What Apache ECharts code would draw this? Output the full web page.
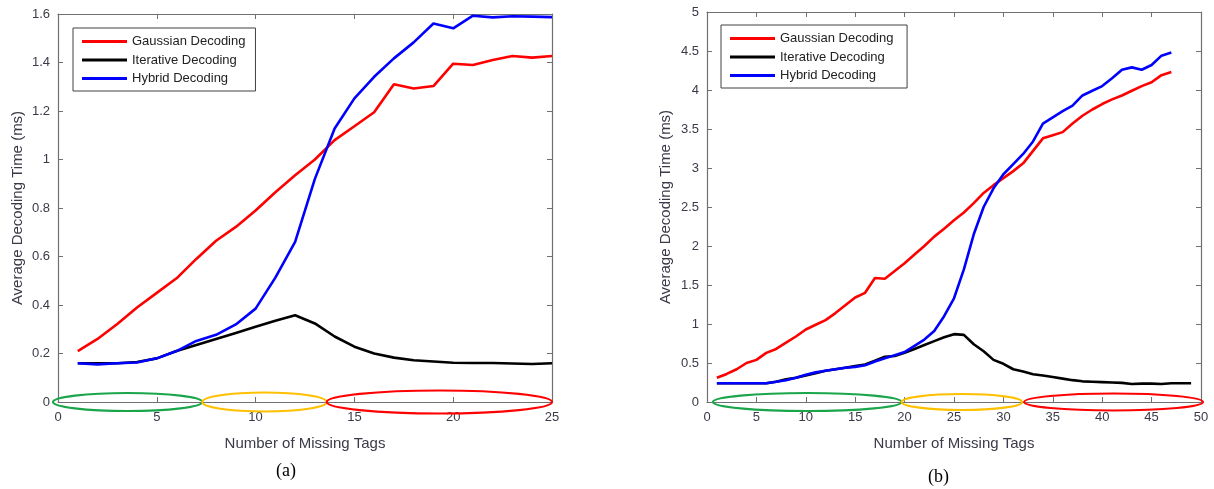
<!DOCTYPE html>
<html>
<head>
<meta charset="utf-8">
<script src="https://cdn.jsdelivr.net/npm/echarts@6/dist/echarts.min.js"></script>
<style>html,body{margin:0;padding:0;background:#fff}#c{width:1214px;height:489px}</style>
</head>
<body>
<div id="c"></div>
<script>
// ---- Data: chart (a) ----
const tagsA = [1,2,3,4,5,6,7,8,9,10,11,12,13,14,15,16,17,18,19,20,21,22,23,24,25];
const gaussA = [0.21,0.26,0.322,0.39,0.45,0.51,0.59,0.665,0.722,0.79,0.865,0.935,1.0,1.08,1.137,1.195,1.31,1.293,1.303,1.395,1.39,1.41,1.427,1.42,1.427];
const iterA  = [0.16,0.16,0.16,0.165,0.18,0.21,0.235,0.26,0.285,0.31,0.335,0.358,0.324,0.27,0.228,0.2,0.183,0.172,0.167,0.162,0.161,0.161,0.159,0.157,0.16];
const hybA   = [0.16,0.155,0.16,0.163,0.18,0.21,0.252,0.277,0.32,0.385,0.513,0.66,0.92,1.128,1.252,1.341,1.417,1.483,1.561,1.541,1.593,1.586,1.591,1.589,1.587];

// ---- Data: chart (b) ----
const tagsB = [1,2,3,4,5,6,7,8,9,10,11,12,13,14,15,16,17,18,19,20,21,22,23,24,25,26,27,28,29,30,31,32,33,34,35,36,37,38,39,40,41,42,43,44,45,46,47,48,49];
const gaussB = [0.31,0.36,0.42,0.50,0.54,0.63,0.68,0.76,0.84,0.93,0.99,1.05,1.14,1.24,1.34,1.40,1.59,1.58,1.68,1.78,1.89,2.00,2.12,2.22,2.33,2.43,2.55,2.68,2.78,2.87,2.96,3.06,3.22,3.38,3.42,3.46,3.57,3.67,3.75,3.82,3.88,3.93,3.99,4.05,4.10,4.19,4.23];
const iterB  = [0.24,0.24,0.24,0.24,0.24,0.24,0.26,0.29,0.31,0.34,0.37,0.40,0.42,0.44,0.46,0.48,0.53,0.58,0.59,0.63,0.68,0.73,0.78,0.83,0.87,0.86,0.74,0.65,0.54,0.49,0.42,0.39,0.355,0.34,0.32,0.30,0.28,0.265,0.26,0.255,0.25,0.245,0.23,0.235,0.235,0.23,0.24,0.24,0.24];
const hybB   = [0.24,0.24,0.24,0.24,0.24,0.24,0.26,0.28,0.31,0.35,0.38,0.40,0.42,0.44,0.45,0.47,0.52,0.56,0.60,0.64,0.72,0.80,0.91,1.10,1.33,1.70,2.15,2.50,2.74,2.92,3.05,3.18,3.34,3.57,3.65,3.73,3.80,3.93,3.99,4.05,4.15,4.26,4.29,4.26,4.32,4.44,4.48];

// ---- Highlighted ranges (x from, x to) on the zero line ----
const rangesA = [[-0.25,7.3],[7.3,13.6],[13.6,25]];
const rangesB = [[0.6,19.7],[19.7,31.9],[32.1,50.2]];

const seriesNames = ['Gaussian Decoding','Iterative Decoding','Hybrid Decoding'];
const xTicksA = {min:0, max:25, interval:5};
const yTicksA = {min:0, max:1.6, interval:0.2};
const xTicksB = {min:0, max:50, interval:5};
const yTicksB = {min:0, max:5, interval:0.5};

// ---- Styles ----
const lineColors = ['#ff0000','#000000','#0000ff'];
const ellipseColors = ['#1aa54b','#ffc000','#ff0000'];
const ellipseRyA = [9,9.5,11.5];
const ellipseRyB = [9,8,8.5];
const axisColor = '#707070';
const labelColor = '#3a3a48';
const font = 'Liberation Sans, Arial, sans-serif';

function pairs(xs, ys){ return ys.map((y,i)=>[xs[i], y]); }

function xAxes(gi, t){
  return [
    {gridIndex:gi, type:'value', min:t.min, max:t.max, interval:t.interval, position:'bottom',
     axisLine:{show:true, onZero:false, lineStyle:{color:axisColor, width:1.2}},
     axisTick:{show:true, inside:true, length:5, lineStyle:{color:axisColor}},
     axisLabel:{color:labelColor, fontSize:13, fontFamily:font, margin:9},
     splitLine:{show:false},
     name:'Number of Missing Tags', nameLocation:'middle', nameGap:34,
     nameTextStyle:{color:labelColor, fontSize:15, fontFamily:font}},
    {gridIndex:gi, type:'value', min:t.min, max:t.max, interval:t.interval, position:'top',
     axisLine:{show:true, onZero:false, lineStyle:{color:axisColor, width:1.2}},
     axisTick:{show:true, inside:true, length:5, lineStyle:{color:axisColor}},
     axisLabel:{show:false}, splitLine:{show:false}}
  ];
}
function yAxes(gi, t, gap){
  return [
    {gridIndex:gi, type:'value', min:t.min, max:t.max, interval:t.interval, position:'left',
     axisLine:{show:true, onZero:false, lineStyle:{color:axisColor, width:1.2}},
     axisTick:{show:true, inside:true, length:5, lineStyle:{color:axisColor}},
     axisLabel:{color:labelColor, fontSize:13, fontFamily:font, margin:8},
     splitLine:{show:false},
     name:'Average Decoding Time (ms)', nameLocation:'middle', nameGap:gap, nameRotate:90,
     nameTextStyle:{color:labelColor, fontSize:15, fontFamily:font}},
    {gridIndex:gi, type:'value', min:t.min, max:t.max, interval:t.interval, position:'right',
     axisLine:{show:true, onZero:false, lineStyle:{color:axisColor, width:1.2}},
     axisTick:{show:true, inside:true, length:5, lineStyle:{color:axisColor}},
     axisLabel:{show:false}, splitLine:{show:false}}
  ];
}

function lineSeries(name, data, color, xi, yi){
  return {name:name, type:'line', xAxisIndex:xi, yAxisIndex:yi, data:data,
    showSymbol:false, symbol:'none', smooth:false,
    lineStyle:{color:color, width:2.6}, itemStyle:{color:color}, z:3};
}

function ellipseSeries(ranges, ryList, xi, yi){
  return {type:'custom', xAxisIndex:xi, yAxisIndex:yi, clip:false, silent:true, z:4,
    data: ranges.map((r,i)=>[r[0], r[1], i]),
    encode:{x:[0,1]},
    renderItem:function(params, api){
      const a = api.coord([api.value(0), 0]);
      const b = api.coord([api.value(1), 0]);
      const k = api.value(2);
      return {type:'ellipse',
        shape:{cx:(a[0]+b[0])/2, cy:a[1], rx:(b[0]-a[0])/2, ry:ryList[k]},
        style:{fill:'none', stroke:ellipseColors[k], lineWidth:2.2}};
    }};
}

function legendFor(names, left, top){
  return {show:true, data:names, orient:'vertical', left:left, top:top,
    backgroundColor:'#fff', borderColor:'#404040', borderWidth:1, padding:[7,10,6,9],
    itemGap:5.5, itemWidth:45, itemHeight:3, icon:'rect',
    textStyle:{color:'#222', fontSize:13, fontFamily:font, padding:[0,0,0,0]}};
}

const chart = echarts.init(document.getElementById('c'), null, {renderer:'canvas'});
chart.setOption({
  backgroundColor:'#ffffff',
  animation:false,
  grid:[
    {left:58, top:14, width:494, height:388},
    {left:707, top:12, width:494, height:390}
  ],
  xAxis: xAxes(0, xTicksA).concat(xAxes(1, xTicksB)),
  yAxis: yAxes(0, yTicksA, 33).concat(yAxes(1, yTicksB, 34)),
  legend:[
    legendFor(seriesNames, 73, 28),
    legendFor(seriesNames.map(n=>n+' '), 721, 25)
  ],
  graphic:[
    {type:'text', left:276, top:462, style:{text:'(a)', font:'18px "Liberation Serif", "Times New Roman", serif', fill:'#000'}},
    {type:'text', left:928, top:468, style:{text:'(b)', font:'18px "Liberation Serif", "Times New Roman", serif', fill:'#000'}}
  ],
  series:[
    lineSeries(seriesNames[0], pairs(tagsA, gaussA), lineColors[0], 0, 0),
    lineSeries(seriesNames[1], pairs(tagsA, iterA), lineColors[1], 0, 0),
    lineSeries(seriesNames[2], pairs(tagsA, hybA), lineColors[2], 0, 0),
    ellipseSeries(rangesA, ellipseRyA, 0, 0),
    lineSeries(seriesNames[0]+' ', pairs(tagsB, gaussB), lineColors[0], 2, 2),
    lineSeries(seriesNames[1]+' ', pairs(tagsB, iterB), lineColors[1], 2, 2),
    lineSeries(seriesNames[2]+' ', pairs(tagsB, hybB), lineColors[2], 2, 2),
    ellipseSeries(rangesB, ellipseRyB, 2, 2)
  ]
});
</script>
</body>
</html>
